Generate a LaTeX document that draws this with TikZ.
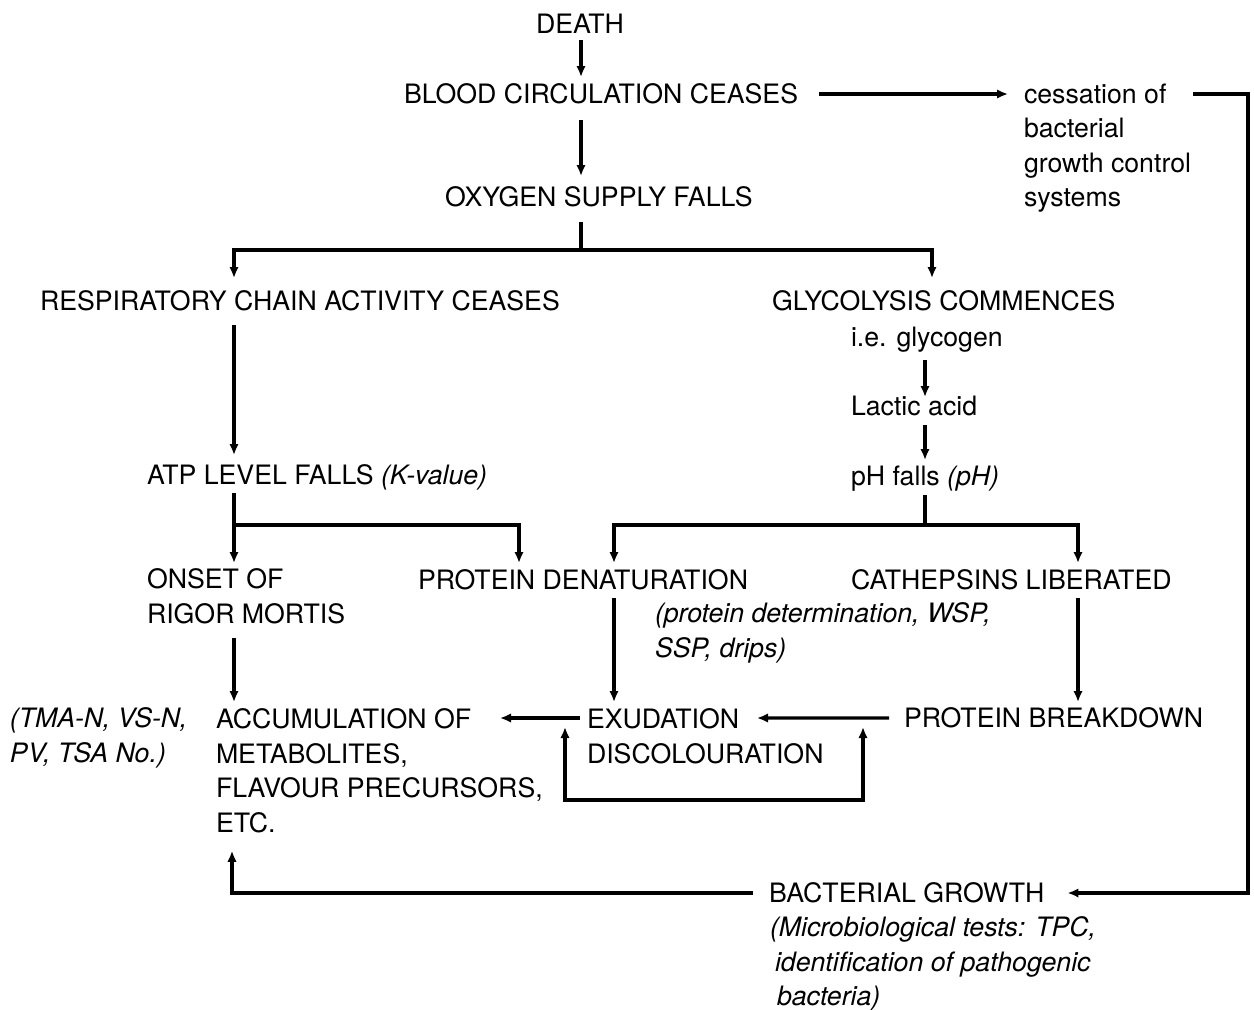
\documentclass[tikz,border=0pt]{standalone}
\usepackage{fontspec}
\setmainfont{TeX Gyre Heros}
\usetikzlibrary{arrows.meta,calc}
\begin{document}
\begin{tikzpicture}[x=0.02cm,y=-0.02cm,
  every node/.style={inner sep=0pt, outer sep=0pt, font=\fontsize{15.2pt}{19.6pt}\selectfont},
  lbl/.style={anchor=base west, text height=0.36cm, text depth=0pt},
  blk/.style={anchor=north west, align=left},
  note/.style={font=\fontsize{15.2pt}{19.6pt}\selectfont\itshape},
  link/.style={line width=0.065cm},
  arr/.style={link, -{Latex[length=0.22cm,width=0.19cm]}},
  twoway/.style={link, {Latex[length=0.22cm,width=0.19cm]}-{Latex[length=0.22cm,width=0.19cm]}},
]
\useasboundingbox (0,0) rectangle (1254,1009);

% ---- texts ----
\node[lbl, anchor=base] (death) at (580,33) {DEATH};
\node[lbl] (blood) at (404,103) {BLOOD CIRCULATION CEASES};
\node[lbl] (oxy) at (445,206) {OXYGEN SUPPLY FALLS};
\node[blk] (cess) at (1024,84) {cessation of\\bacterial\\growth control\\systems};
\node[lbl] (resp) at (40,310) {RESPIRATORY CHAIN ACTIVITY CEASES};
\node[lbl] (glyc) at (772,310) {GLYCOLYSIS COMMENCES};
\node[lbl] (glycogen) at (851,346) {i.e. glycogen};
\node[lbl] (lactic) at (851,415) {Lactic acid};
\node[lbl] (ph) at (851,485) {pH falls \textit{(pH)}};
\node[lbl] (atp) at (147,484) {ATP LEVEL FALLS \textit{(K-value)}};
\node[blk] (onset) at (147,569) {ONSET OF\\RIGOR MORTIS};
\node[lbl] (denat) at (418,589) {PROTEIN DENATURATION};
\node[lbl] (cath) at (851,589) {CATHEPSINS LIBERATED};
\node[blk, note] (pdet) at (655,603) {(protein determination, WSP,\\SSP, drips)};
\node[blk, note] (tma) at (10,708) {(TMA-N, VS-N,\\PV, TSA No.)};
\node[blk] (accum) at (216,709) {ACCUMULATION OF\\METABOLITES,\\FLAVOUR PRECURSORS,\\ETC.};
\node[blk] (exud) at (587,709) {EXUDATION\\DISCOLOURATION};
\node[lbl] (pbreak) at (904,727) {PROTEIN BREAKDOWN};
\node[lbl] (bact) at (769,902) {BACTERIAL GROWTH};
\node[blk, note] (micro) at (770,917) {(Microbiological tests: TPC,\\\hspace*{0.1cm}identification of pathogenic\\\hspace*{0.14cm}bacteria)};

% ---- connector columns and junctions ----
\coordinate (colA) at (234,0);
\coordinate (colB) at (519,0);
\coordinate (colC) at (581,0);
\coordinate (colD) at (614,0);
\coordinate (colG) at (925,0);
\coordinate (colH) at (932,0);
\coordinate (colK) at (1078,0);
\coordinate (colL) at (232,0);
\coordinate (colR) at (1248,0);
\coordinate (fork1) at (581,250);
\coordinate (fork2) at (234,525);
\coordinate (fork3) at (925,525);
\coordinate (accin) at (500,718);
\coordinate (exin) at (757,718);
\coordinate (lpa) at (565,727);
\coordinate (lpb) at (863,727);

% ---- main chain ----
\draw[arr, shorten <=0.14cm, shorten >=0.16cm] (death.south -| colC) -- (blood.north -| colC);
\draw[arr, shorten <=0.34cm, shorten >=0.24cm] (blood.south -| colC) -- (oxy.north -| colC);
\draw[arr, shorten <=0.42cm, shorten >=0.32cm] (blood.east) -- (blood.east -| cess.west);
\draw[arr, shorten >=0.46cm] ($(blood.east -| cess.east)+(2,0)$) -- (blood.east -| colR) -- (colR |- bact.east) -- (bact.east);

% ---- first fork ----
\draw[link, shorten <=0.32cm] (oxy.south -| colC) -- (fork1);
\draw[arr, shorten >=0.28cm] (fork1) -| (resp.north -| colA);
\draw[arr, shorten >=0.28cm] (fork1) -| (glyc.north -| colH);

% ---- left branch ----
\draw[arr, shorten <=0.3cm, shorten >=0.22cm] (resp.south -| colA) -- (atp.north -| colA);
\draw[arr, shorten <=0.18cm, shorten >=0.12cm] (atp.south -| colA) -- (onset.north -| colA);
\draw[arr, shorten >=0.16cm] (fork2) -| (denat.north -| colB);
\draw[arr, shorten <=0.28cm, shorten >=0.14cm] (onset.south -| colA) -- (accum.north -| colA);

% ---- right branch ----
\draw[arr, shorten <=0.28cm] (glycogen.south -| colG) -- (lactic.north -| colG);
\draw[arr, shorten <=0.2cm, shorten >=0.14cm] (lactic.south -| colG) -- (ph.north -| colG);
\draw[link, shorten <=0.2cm] (ph.south -| colG) -- (fork3);
\draw[arr, shorten >=0.16cm] (fork3) -| (denat.north -| colD);
\draw[arr, shorten >=0.16cm] (fork3) -| (cath.north -| colK);
\draw[arr, shorten <=0.18cm, shorten >=0.14cm] (denat.south -| colD) -- (exud.north -| colD);
\draw[arr, shorten <=0.18cm, shorten >=0.14cm] (cath.south -| colK) -- (pbreak.north -| colK);

% ---- bottom row ----
\draw[arr, shorten <=0.14cm] (exud.north west |- accin) -- (accin);
\draw[arr, shorten <=0.3cm] (pbreak.west) -- (exin);
\draw[twoway] (lpa) -- ++(0,73) -| (lpb);
\draw[arr, shorten <=0.32cm, shorten >=0.36cm] (bact.west) -| (accum.south -| colL);
\end{tikzpicture}
\end{document}
